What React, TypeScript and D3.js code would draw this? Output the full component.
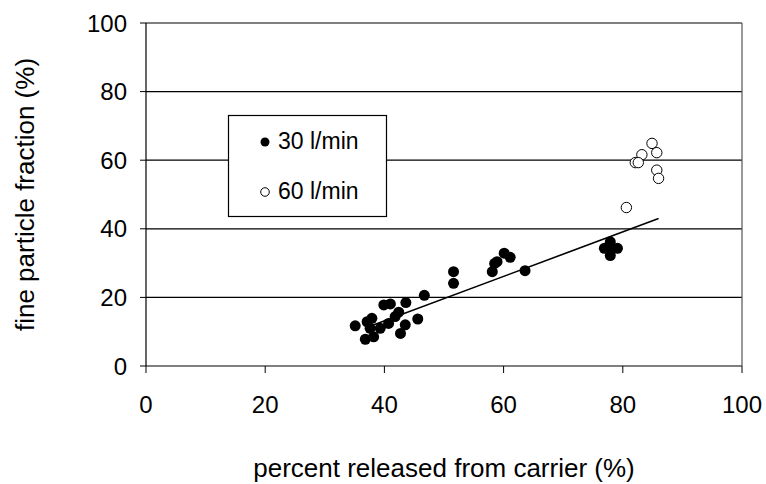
import React, { useEffect, useRef } from "react";
import * as d3 from "d3";

// 30 l/min (filled) points: [percent released, fine particle fraction]
const released30 = [
  35.1, 37.1, 37.9, 37.6, 39.3, 36.8, 38.2, 40.7, 41.8, 39.9, 41.0, 43.6, 42.4,
  42.7, 43.5, 45.6, 46.7, 51.6, 51.6, 58.1, 58.5, 58.9, 60.1, 61.1, 63.6, 77.9,
  76.9, 79.1, 77.9, 77.9,
];
const fpf30 = [
  11.7, 12.9, 13.9, 11.0, 11.0, 7.8, 8.5, 12.4, 14.4, 17.8, 18.1, 18.5, 15.7,
  9.5, 12.0, 13.7, 20.6, 27.5, 24.1, 27.5, 29.9, 30.4, 32.9, 31.7, 27.8, 36.2,
  34.3, 34.3, 32.2, 34.4,
];

// 60 l/min (open) points
const released60 = [84.9, 85.7, 83.2, 82.1, 82.6, 85.7, 86.0, 80.6];
const fpf60 = [64.9, 62.2, 61.6, 59.3, 59.3, 57.1, 54.7, 46.2];

// trend line end points
const trendX = [37, 86];
const trendY = [11.2, 43];

const xTicks = [0, 20, 40, 60, 80, 100];
const yTicks = [0, 20, 40, 60, 80, 100];

const W = 766;
const H = 484;

export default function App() {
  const ref = useRef<SVGSVGElement>(null);

  useEffect(() => {
    const svg = d3.select(ref.current);
    svg.selectAll("*").remove();

    const left = 146, right = 742, top = 23, bottom = 366;
    const x = d3.scaleLinear().domain([0, 100]).range([left, right]);
    const y = d3.scaleLinear().domain([0, 100]).range([bottom, top]);
    const font = "'Liberation Sans', Arial, sans-serif";

    const g = svg.append("g");

    // horizontal grid lines
    g.selectAll("line.grid")
      .data(yTicks)
      .enter()
      .append("line")
      .attr("x1", left)
      .attr("x2", right)
      .attr("y1", (d) => y(d))
      .attr("y2", (d) => y(d))
      .attr("stroke", "#000")
      .attr("stroke-width", 1.2);

    // frame sides
    g.append("line")
      .attr("x1", left).attr("x2", left)
      .attr("y1", top).attr("y2", bottom)
      .attr("stroke", "#000").attr("stroke-width", 1.2);
    g.append("line")
      .attr("x1", right).attr("x2", right)
      .attr("y1", top).attr("y2", bottom)
      .attr("stroke", "#555").attr("stroke-width", 1.2);

    // ticks
    g.selectAll("line.xt")
      .data(xTicks)
      .enter()
      .append("line")
      .attr("x1", (d) => x(d))
      .attr("x2", (d) => x(d))
      .attr("y1", bottom)
      .attr("y2", bottom + 7)
      .attr("stroke", "#000");
    g.selectAll("line.yt")
      .data(yTicks)
      .enter()
      .append("line")
      .attr("x1", left - 6)
      .attr("x2", left)
      .attr("y1", (d) => y(d))
      .attr("y2", (d) => y(d))
      .attr("stroke", "#000");

    // tick labels
    g.selectAll("text.xl")
      .data(xTicks)
      .enter()
      .append("text")
      .attr("x", (d) => x(d))
      .attr("y", 413)
      .attr("text-anchor", "middle")
      .attr("font-family", font)
      .attr("font-size", 24)
      .text((d) => d);
    g.selectAll("text.yl")
      .data(yTicks)
      .enter()
      .append("text")
      .attr("x", 127)
      .attr("y", (d) => y(d) + 8.5)
      .attr("text-anchor", "end")
      .attr("font-family", font)
      .attr("font-size", 24)
      .text((d) => d);

    // axis titles
    svg.append("text")
      .attr("x", 444)
      .attr("y", 477)
      .attr("text-anchor", "middle")
      .attr("font-family", font)
      .attr("font-size", 26)
      .text("percent released from carrier (%)");
    svg.append("text")
      .attr("transform", `translate(34,${(top + bottom) / 2}) rotate(-90)`)
      .attr("text-anchor", "middle")
      .attr("font-family", font)
      .attr("font-size", 26)
      .text("fine particle fraction (%)");

    // trend line
    const line = d3.line<number>()
      .x((d) => x(d))
      .y((_, i) => y(trendY[i]));
    g.append("path")
      .attr("d", line(trendX))
      .attr("fill", "none")
      .attr("stroke", "#000")
      .attr("stroke-width", 1.6);

    // points
    g.selectAll("circle.p30")
      .data(released30)
      .enter()
      .append("circle")
      .attr("cx", (d) => x(d))
      .attr("cy", (_, i) => y(fpf30[i]))
      .attr("r", 5.5)
      .attr("fill", "#000");
    g.selectAll("circle.p60")
      .data(released60)
      .enter()
      .append("circle")
      .attr("cx", (d) => x(d))
      .attr("cy", (_, i) => y(fpf60[i]))
      .attr("r", 5.2)
      .attr("fill", "#fff")
      .attr("stroke", "#000")
      .attr("stroke-width", 1);

    // legend
    const lg = svg.append("g");
    lg.append("rect")
      .attr("x", 228.5)
      .attr("y", 115.5)
      .attr("width", 158)
      .attr("height", 101)
      .attr("fill", "#fff")
      .attr("stroke", "#000")
      .attr("stroke-width", 1.2);
    lg.append("circle")
      .attr("cx", 265).attr("cy", 142).attr("r", 4.5).attr("fill", "#000");
    lg.append("circle")
      .attr("cx", 265).attr("cy", 192).attr("r", 4.3)
      .attr("fill", "#fff").attr("stroke", "#000").attr("stroke-width", 1);
    lg.append("text")
      .attr("x", 278).attr("y", 149)
      .attr("font-family", font).attr("font-size", 23)
      .text("30 l/min");
    lg.append("text")
      .attr("x", 278).attr("y", 199)
      .attr("font-family", font).attr("font-size", 23)
      .text("60 l/min");
  }, []);

  return (
    <svg
      ref={ref}
      width={W}
      height={H}
      style={{ position: "absolute", left: 0, top: 0, background: "#fff" }}
    />
  );
}
